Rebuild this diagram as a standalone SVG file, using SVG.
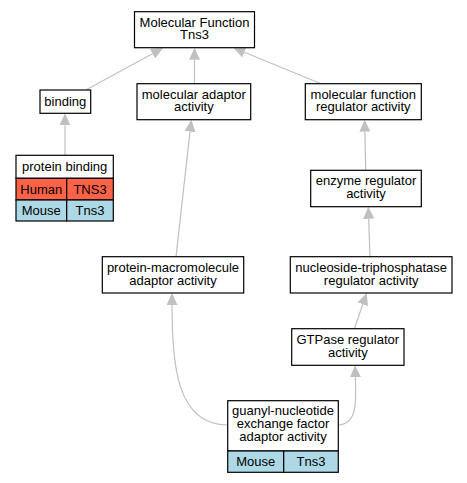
<svg xmlns="http://www.w3.org/2000/svg" width="467" height="483" viewBox="0 0 467 483">
<defs>
<style>
.n{fill:#fff;stroke:#000;stroke-width:1.2}
.h{fill:#ff6347;stroke:#000;stroke-width:1.2}
.m{fill:#add8e6;stroke:#000;stroke-width:1.2}
text{font-family:"Liberation Sans",Arial,sans-serif;font-size:13px;fill:#000;text-anchor:middle}
.e{fill:none;stroke:#c0c0c0;stroke-width:1.2}
</style>
<marker id="a" viewBox="0 0 12 11" refX="0" refY="5.5" markerWidth="12" markerHeight="11" markerUnits="userSpaceOnUse" orient="auto">
<path d="M0,0 L12,5.5 L0,11 Z" fill="#c0c0c0"/>
</marker>
</defs>
<rect width="467" height="483" fill="#fff"/>
<g id="edges">
<path class="e" marker-end="url(#a)" d="M86.7,89.5 L152.5,53.7"/>
<path class="e" marker-end="url(#a)" d="M194.5,83.7 L194.5,59.7"/>
<path class="e" marker-end="url(#a)" d="M321,83.7 L244.4,52.3"/>
<path class="e" marker-end="url(#a)" d="M65,155.3 L65,125.3"/>
<path class="e" marker-end="url(#a)" d="M365.7,170.3 L364.9,131.7"/>
<path class="e" marker-end="url(#a)" d="M370,256.7 L368.7,218.7"/>
<path class="e" marker-end="url(#a)" d="M176,256.7 L190,131.6"/>
<path class="e" marker-end="url(#a)" d="M354.3,328.7 L362.8,304.3"/>
<path class="e" marker-end="url(#a)" d="M227.7,425 C175,425 172,360 172,305"/>
<path class="e" marker-end="url(#a)" d="M338.3,425 C358,424 356,400 355.4,377.3"/>
</g>
<g id="mf">
<rect class="n" x="134.5" y="11.7" width="120" height="36"/>
<text x="194.5" y="26.5">Molecular Function</text>
<text x="194.5" y="39">Tns3</text>
</g>
<g id="binding">
<rect class="n" x="40" y="90" width="50.7" height="23.3"/>
<text x="65.3" y="106">binding</text>
</g>
<g id="mol_adaptor">
<rect class="n" x="137" y="83.7" width="113.7" height="36"/>
<text x="193.8" y="98.5">molecular adaptor</text>
<text x="193.8" y="111.2">activity</text>
</g>
<g id="mf_regulator">
<rect class="n" x="305.3" y="83.7" width="116" height="36"/>
<text x="363.3" y="98.5">molecular function</text>
<text x="363.3" y="111.2">regulator activity</text>
</g>
<g id="protein_binding">
<rect class="n" x="16" y="155.3" width="97.3" height="23"/>
<rect class="h" x="16" y="178.3" width="50.7" height="21.7"/>
<rect class="h" x="66.7" y="178.3" width="46.6" height="21.7"/>
<rect class="m" x="16" y="200" width="50.7" height="21"/>
<rect class="m" x="66.7" y="200" width="46.6" height="21"/>
<text x="64.7" y="171">protein binding</text>
<text x="41.3" y="193.5">Human</text>
<text x="90" y="193.5">TNS3</text>
<text x="41.3" y="215">Mouse</text>
<text x="90" y="215">Tns3</text>
</g>
<g id="enzyme_regulator">
<rect class="n" x="310.7" y="170.3" width="110.6" height="36.4"/>
<text x="366" y="185.2">enzyme regulator</text>
<text x="366" y="197.9">activity</text>
</g>
<g id="protein_macro">
<rect class="n" x="102.3" y="256.7" width="141.4" height="36.3"/>
<text x="173" y="272.4">protein-macromolecule</text>
<text x="173" y="285.2">adaptor activity</text>
</g>
<g id="ntp_regulator">
<rect class="n" x="290.3" y="256.7" width="161.7" height="36.3"/>
<text x="371.2" y="272.4">nucleoside-triphosphatase</text>
<text x="371.2" y="285.2">regulator activity</text>
</g>
<g id="gtpase_regulator">
<rect class="n" x="291.7" y="328.7" width="112.3" height="36.6"/>
<text x="347.8" y="343.5">GTPase regulator</text>
<text x="347.8" y="356.5">activity</text>
</g>
<g id="guanyl">
<rect class="n" x="227.7" y="400.7" width="110.6" height="50.3"/>
<rect class="m" x="227.7" y="451" width="56" height="21.3"/>
<rect class="m" x="283.7" y="451" width="54.6" height="21.3"/>
<text x="283" y="414.7">guanyl-nucleotide</text>
<text x="283" y="428">exchange factor</text>
<text x="283" y="441.3">adaptor activity</text>
<text x="255.7" y="466">Mouse</text>
<text x="311" y="466">Tns3</text>
</g>
</svg>
